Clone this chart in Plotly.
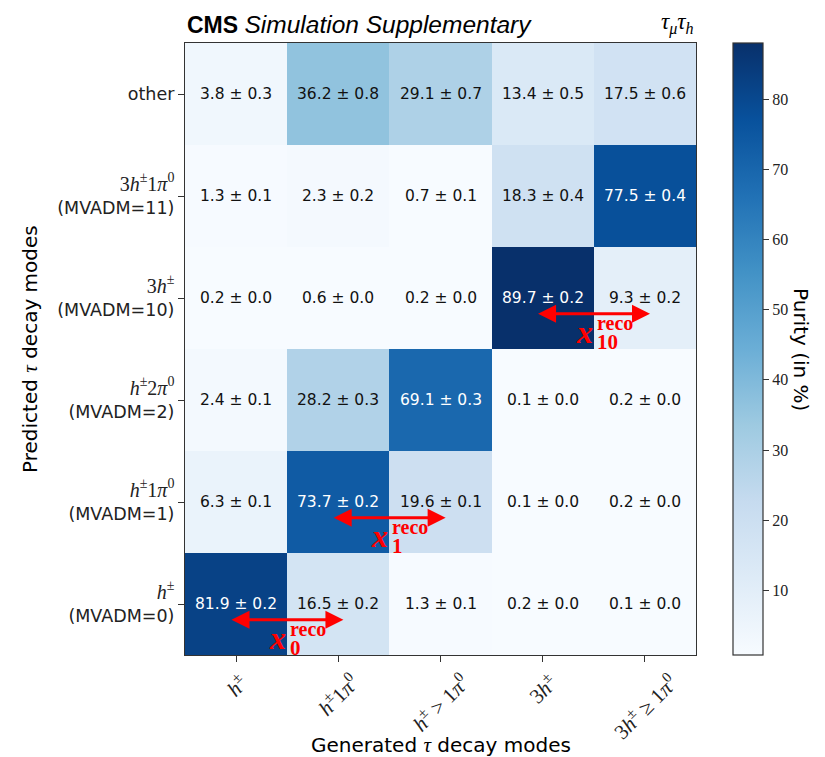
import plotly.graph_objects as go

SERIF = "Liberation Serif"
SANS = "DejaVu Sans"

def m(s, size=20):
    return f'<span style="font-family:{SERIF};font-size:{size}px">{s}</span>'

# Generated decay modes (columns)
gen_labels = [
    "<i>h</i><sup>±</sup>",
    "<i>h</i><sup>±</sup>1<i>π</i><sup>0</sup>",
    "<i>h</i><sup>±</sup> &gt; 1<i>π</i><sup>0</sup>",
    "3<i>h</i><sup>±</sup>",
    "3<i>h</i><sup>±</sup> ≥ 1<i>π</i><sup>0</sup>",
]
# Predicted decay modes (rows, bottom to top)
pred_labels = [
    m("<i>h</i><sup>±</sup>") + "<br>(MVADM=0)",
    m("<i>h</i><sup>±</sup>1<i>π</i><sup>0</sup>") + "<br>(MVADM=1)",
    m("<i>h</i><sup>±</sup>2<i>π</i><sup>0</sup>") + "<br>(MVADM=2)",
    m("3<i>h</i><sup>±</sup>") + "<br>(MVADM=10)",
    m("3<i>h</i><sup>±</sup>1<i>π</i><sup>0</sup>") + "<br>(MVADM=11)",
    "other",
]

purity = [
    [81.9, 16.5, 1.3, 0.2, 0.1],
    [6.3, 73.7, 19.6, 0.1, 0.2],
    [2.4, 28.2, 69.1, 0.1, 0.2],
    [0.2, 0.6, 0.2, 89.7, 9.3],
    [1.3, 2.3, 0.7, 18.3, 77.5],
    [3.8, 36.2, 29.1, 13.4, 17.5],
]
errors = [
    [0.2, 0.2, 0.1, 0.0, 0.0],
    [0.1, 0.2, 0.1, 0.0, 0.0],
    [0.1, 0.3, 0.3, 0.0, 0.0],
    [0.0, 0.0, 0.0, 0.2, 0.2],
    [0.1, 0.2, 0.1, 0.4, 0.4],
    [0.3, 0.8, 0.7, 0.5, 0.6],
]

# reco-label markers: (column, row, subscript)
reco_marks = [(0, 0, "0"), (1, 1, "1"), (3, 3, "10")]

cbar_ticks = [10, 20, 30, 40, 50, 60, 70, 80]

blues = ['rgb(247,251,255)', 'rgb(222,235,247)', 'rgb(198,219,239)', 'rgb(158,202,225)',
         'rgb(107,174,214)', 'rgb(66,146,198)', 'rgb(33,113,181)', 'rgb(8,81,156)', 'rgb(8,48,107)']
cscale = [[i / (len(blues) - 1), c] for i, c in enumerate(blues)]

nx = len(gen_labels)
ny = len(pred_labels)

fig = go.Figure()
fig.add_trace(go.Heatmap(
    z=purity,
    x=list(range(nx)),
    y=list(range(ny)),
    colorscale=cscale,
    zmin=0.8, zmax=88.0,
    hoverinfo="skip",
    colorbar=dict(
        x=1.0724, xanchor="left", xref="paper", xpad=0, ypad=0,
        y=0.5, yanchor="middle", len=1.0, lenmode="fraction",
        thickness=30, outlinewidth=1.2, outlinecolor="#333",
        tickvals=cbar_ticks, ticks="outside", ticklen=6, tickcolor="#333",
        tickfont=dict(family=SERIF, size=16, color="#222"),
    ),
))

annotations = []
# cell values
for j in range(ny):
    for i in range(nx):
        v = purity[j][i]
        annotations.append(dict(
            x=i, y=j, xref="x", yref="y", showarrow=False,
            text=f"{v:.1f} ± {errors[j][i]:.1f}",
            font=dict(family=SANS, size=15.5, color="white" if v > 50 else "#111"),
        ))

# x tick labels (rotated, centred under ticks)
for i, lab in enumerate(gen_labels):
    annotations.append(dict(
        x=i, y=0, xref="x", yref="paper", xanchor="center", yanchor="top",
        yshift=-11, showarrow=False, textangle=-45,
        text=lab, font=dict(family=SERIF, size=21, color="#222"),
    ))

# reco arrows and labels
for (ci, rj, sub) in reco_marks:
    annotations.append(dict(
        x=ci + 1.05, y=rj - 0.155, ax=ci - 0.06, ay=rj - 0.155,
        xref="x", yref="y", axref="x", ayref="y",
        text="", showarrow=True, arrowside="end+start", arrowhead=2,
        arrowsize=1.2, arrowwidth=3, arrowcolor="#ff0000", standoff=0, startstandoff=0,
    ))
    annotations.append(dict(
        x=ci + 0.5, y=rj - 0.33, xref="x", yref="y", xanchor="right", yanchor="middle",
        showarrow=False, text="<b><i>x</i></b>", xshift=0, borderpad=0,
        font=dict(family=SERIF, size=32, color="#ff0000"),
    ))
    annotations.append(dict(
        x=ci + 0.5, y=rj - 0.245, xref="x", yref="y", xanchor="left", yanchor="middle",
        showarrow=False, text="<b>reco</b>", xshift=2, borderpad=0,
        font=dict(family=SERIF, size=20, color="#ff0000"),
    ))
    annotations.append(dict(
        x=ci + 0.5, y=rj - 0.43, xref="x", yref="y", xanchor="left", yanchor="middle",
        showarrow=False, text=f"<b>{sub}</b>", xshift=2, borderpad=0,
        font=dict(family=SERIF, size=21, color="#ff0000"),
    ))

# titles
annotations += [
    dict(x=0, y=1, xref="paper", yref="paper", xanchor="left", yanchor="bottom",
         yshift=3, showarrow=False,
         text='<b>CMS</b> <i><span style="font-size:24.5px">Simulation Supplementary</span></i>',
         font=dict(family="Liberation Sans", size=23, color="black")),
    dict(x=1, y=1, xref="paper", yref="paper", xanchor="right", yanchor="bottom",
         yshift=3, showarrow=False,
         text="<i>τ</i><sub><i>μ</i></sub><i>τ</i><sub><i>h</i></sub>",
         font=dict(family=SERIF, size=23, color="black")),
    dict(x=0.5, y=0, xref="paper", yref="paper", xanchor="center", yanchor="middle",
         yshift=-90, showarrow=False,
         text="Generated " + m("<i>τ</i>", 21) + " decay modes",
         font=dict(family=SANS, size=20, color="black")),
    dict(x=0, y=0.5, xref="paper", yref="paper", xanchor="center", yanchor="middle",
         xshift=-155, showarrow=False, textangle=-90,
         text="Predicted " + m("<i>τ</i>", 21) + " decay modes",
         font=dict(family=SANS, size=20, color="black")),
    dict(x=1, y=0.5, xref="paper", yref="paper", xanchor="center", yanchor="middle",
         xshift=105, showarrow=False, textangle=90,
         text="Purity (in %)",
         font=dict(family=SANS, size=20, color="black")),
]

fig.update_layout(
    width=825, height=757,
    margin=dict(l=185, r=129, t=43, b=102),
    paper_bgcolor="white", plot_bgcolor="white",
    showlegend=False,
    annotations=annotations,
    xaxis=dict(
        range=[-0.5, nx - 0.5], tickvals=list(range(nx)), showticklabels=False,
        ticks="outside", ticklen=6, tickcolor="#333",
        showline=True, mirror=True, linecolor="#333", linewidth=1.2,
        showgrid=False, zeroline=False, fixedrange=True,
    ),
    yaxis=dict(
        range=[-0.5, ny - 0.5], tickvals=list(range(ny)), ticktext=pred_labels,
        ticks="outside", ticklen=6, tickcolor="#333",
        tickfont=dict(family=SANS, size=17.5, color="#222"),
        showline=True, mirror=True, linecolor="#333", linewidth=1.2,
        showgrid=False, zeroline=False, fixedrange=True,
    ),
)

fig.write_html("out.html")
